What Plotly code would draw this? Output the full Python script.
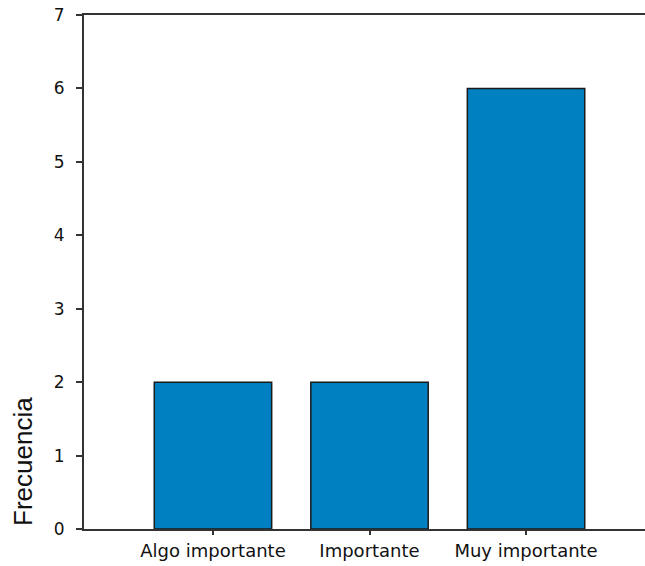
import plotly.graph_objects as go

categories = ["Algo importante", "Importante", "Muy importante"]
values = [2, 2, 6]
y_ticks = [0, 1, 2, 3, 4, 5, 6, 7]

fig = go.Figure()
fig.add_trace(go.Bar(
    x=categories, y=values, width=0.75,
    marker=dict(color="#0080C0", line=dict(color="#1a1a1a", width=1.5)),
))

fig.update_layout(
    width=645, height=566,
    margin=dict(l=84, r=0, t=15, b=37, autoexpand=False),
    paper_bgcolor="white", plot_bgcolor="white",
    showlegend=False,
    font=dict(family="DejaVu Sans", size=18, color="#111"),
    xaxis=dict(
        type="category", range=[-0.824, 2.76],
        showline=True, linecolor="#333", linewidth=2, mirror=True,
        ticks="outside", ticklen=4, tickcolor="#333", tickwidth=2,
        showgrid=False, zeroline=False,
        tickfont=dict(family="DejaVu Sans", size=18),
    ),
    yaxis=dict(
        range=[0, 7], tickvals=y_ticks,
        showline=True, linecolor="#333", linewidth=2,
        ticks="outside", ticklen=6, tickcolor="#333", tickwidth=2,
        showgrid=False, zeroline=False,
        tickfont=dict(family="DejaVu Sans", size=17),
        ticklabelstandoff=8,
    ),
    annotations=[dict(
        text="Frecuencia", textangle=-90,
        xref="paper", yref="paper", x=-61 / 561, y=(529 - 462) / 514,
        xanchor="center", yanchor="middle", showarrow=False,
        font=dict(family="Liberation Sans", size=26, color="#111"),
    )],
)

fig.write_html("out.html", config={"displayModeBar": False},
               post_script="document.body.style.margin='0';")
